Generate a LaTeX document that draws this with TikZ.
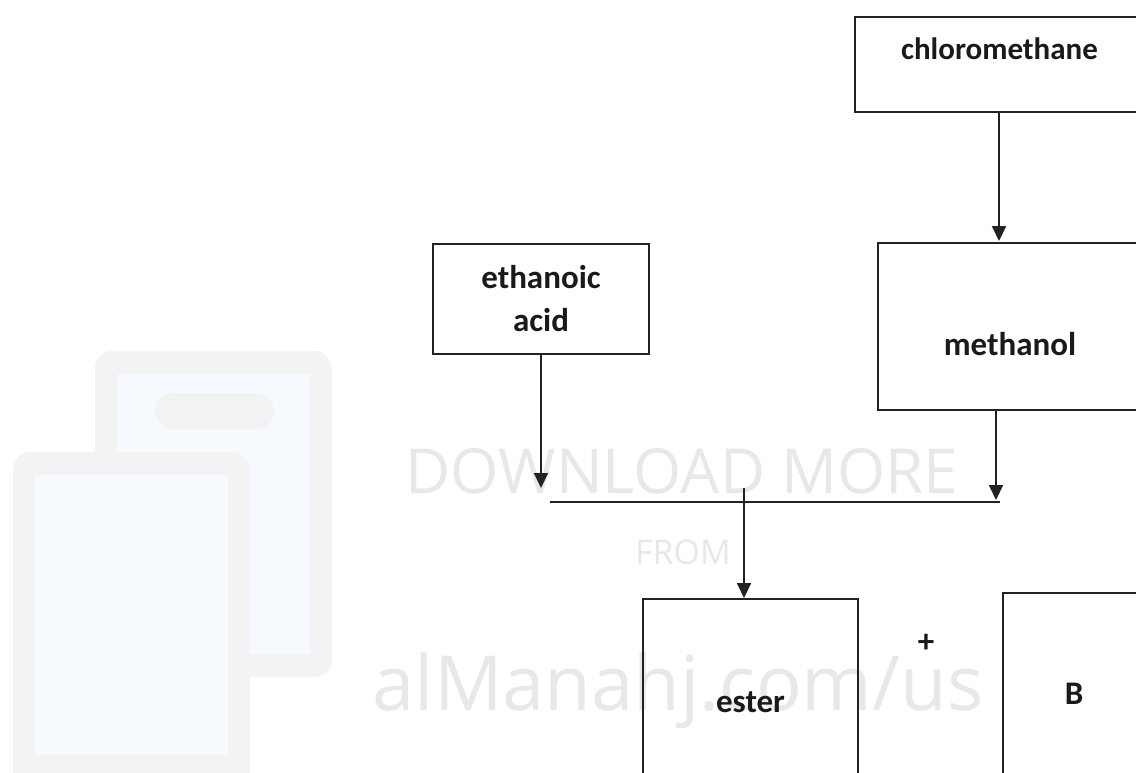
\documentclass[tikz,border=0pt]{standalone}
\usepackage{fontspec}
\setmainfont{Carlito}
\newfontfamily\wmfont{Open Sans}
\usetikzlibrary{arrows.meta}
\definecolor{linec}{HTML}{222222}
\definecolor{txtc}{HTML}{1A1A1A}
\definecolor{wmc}{HTML}{E8E8E8}
\definecolor{phoneg}{HTML}{F3F3F3}
\definecolor{screenb}{HTML}{F6F9FD}
\tikzset{
  box/.style={draw=linec, line width=2pt, rectangle, inner sep=0pt, text=txtc,
              font=\fontsize{33}{43}\selectfont\bfseries, align=center},
  arr/.style={draw=linec, line width=2pt, -{Triangle[width=14pt,length=15pt]}},
  conn/.style={draw=linec, line width=2pt},
  wm/.style={text=wmc, inner sep=0pt, anchor=base},
  lbl/.style={text=txtc, font=\fontsize{33}{43}\selectfont\bfseries, inner sep=0pt}
}
\begin{document}
\begin{tikzpicture}[x=1pt,y=-1pt]
\useasboundingbox (0,0) rectangle (1136,772);
\clip (0,0) rectangle (1136,772);
\fill[white] (0,0) rectangle (1136,772);
% background phone icons (watermark)
\fill[phoneg, rounded corners=18pt] (95,351) rectangle (332,677);
\fill[screenb] (117,374) rectangle (310,654);
\fill[phoneg, rounded corners=18pt] (155,393) rectangle (274,429);
\fill[phoneg, rounded corners=18pt] (13,452) rectangle (250,800);
\fill[screenb] (35,475) rectangle (228,755);
% watermark text
\node[wm, font=\wmfont\fontsize{62}{62}\selectfont] (wm1) at (682,493) {DOWNLOAD MORE};
\node[wm, font=\wmfont\fontsize{34}{34}\selectfont] (wm2) at (683,564) {FROM};
\node[wm, font=\wmfont\fontsize{76}{76}\selectfont] (wm3) at (678,710) {alManahj.com/us};
% boxes
\node[box, minimum width=295pt, minimum height=95pt,
      label={[lbl, font=\fontsize{31}{40}\selectfont\bfseries, yshift=16pt, xshift=-3pt]center:chloromethane}] (chloro) at (1002.5,64.5) {};
\node[box, minimum width=216pt, minimum height=110pt] (eth) at (541,299) {ethanoic\\acid};
\node[box, minimum width=272pt, minimum height=167pt,
      label={[lbl, yshift=-18pt, xshift=-4pt]center:methanol}] (meth) at (1014,326.5) {};
\node[box, minimum width=215pt, minimum height=206pt] (ester) at (750.5,702) {ester};
\node[box, minimum width=142pt, minimum height=202pt] (B) at (1074,694) {B};
\node[lbl] (plus) at (926,643) {+};
% connector points
\coordinate (cA) at (999,241);
\coordinate (eA) at (541,488);
\coordinate (mA) at (996,500);
\coordinate (hL) at (550,502);
\coordinate (hR) at (1000,502);
\coordinate (jT) at (744,488);
% connectors
\draw[arr] (chloro.south -| cA) -- (cA);
\draw[arr] (eth.south) -- (eA);
\draw[arr] (meth.south -| mA) -- (mA);
\draw[conn] (hL) -- (hR);
\draw[arr] (jT) -- (jT |- ester.north);
\end{tikzpicture}
\end{document}
